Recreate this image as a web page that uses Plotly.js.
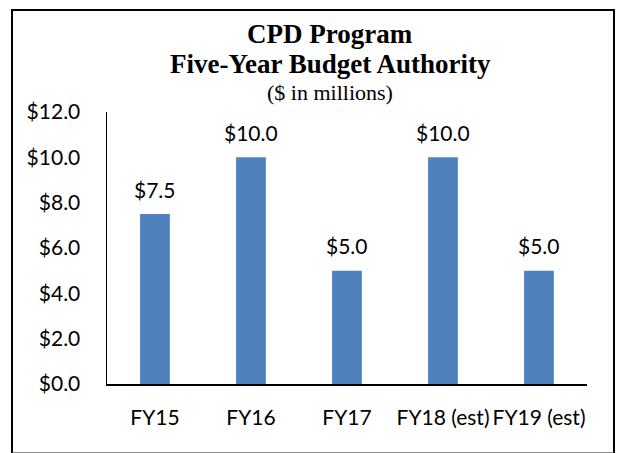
<!DOCTYPE html>
<html>
<head>
<meta charset="utf-8">
<script src="https://cdn.plot.ly/plotly-3.0.1.min.js"></script>
<style>
  html, body { margin: 0; padding: 0; background: #fff; }
  #wrap { position: relative; width: 618px; height: 453px; }
  #chart { position: absolute; left: 0; top: 0; width: 618px; height: 453px; }
  #frame { position: absolute; left: 11px; top: 9px; width: 600px; height: 441px;
           border: 2px solid #000; border-bottom-color: #888; pointer-events: none; }
</style>
</head>
<body>
<div id="wrap">
  <div id="chart"></div>
  <div id="frame"></div>
</div>
<script>
const categories = ["FY15", "FY16", "FY17", "FY18 (est)", "FY19 (est)"];
const values = [7.5, 10.0, 5.0, 10.0, 5.0];
const yTickValues = [0, 2, 4, 6, 8, 10, 12];
const titleLine1 = "CPD Program";
const titleLine2 = "Five-Year Budget Authority";
const titleLine3 = "($ in millions)";

const sans = "Lato, 'Open Sans', sans-serif";
const serif = "'Liberation Serif', 'Times New Roman', serif";

const money = v => "$" + v.toFixed(1);

const trace = {
  type: "bar",
  x: categories,
  y: values,
  marker: { color: "#4F81BD" },
  hoverinfo: "none"
};

const dataLabels = categories.map((c, i) => ({
  x: c, y: values[i], xref: "x", yref: "y",
  text: money(values[i]),
  showarrow: false, yanchor: "middle", yshift: 25,
  font: { family: sans, size: 21, color: "#000" }
}));

const titles = [
  { text: "<b>" + titleLine1 + "</b>", y: 1.285, size: 27 },
  { text: "<b>" + titleLine2 + "</b>", y: 1.175, size: 27 },
  { text: titleLine3, y: 1.070, size: 22 }
].map(t => ({
  x: 0.465, y: t.y, xref: "paper", yref: "paper",
  xanchor: "center", yanchor: "middle", showarrow: false,
  text: t.text, font: { family: serif, size: t.size, color: "#000" }
}));

const layout = {
  width: 618, height: 453,
  margin: { l: 107, r: 31, t: 112, b: 69, pad: 0 },
  paper_bgcolor: "#fff", plot_bgcolor: "#fff",
  bargap: 0.69,
  showlegend: false,
  xaxis: {
    type: "category",
    showline: true, linecolor: "#000", linewidth: 1.5,
    showgrid: false, zeroline: false, ticks: "",
    tickangle: 0,
    ticklabelstandoff: 14,
    tickfont: { family: sans, size: 21, color: "#000" },
    fixedrange: true
  },
  yaxis: {
    range: [0, 12],
    tickmode: "array",
    tickvals: yTickValues,
    ticktext: yTickValues.map(money),
    showline: true, linecolor: "#000", linewidth: 1.5,
    showgrid: false, zeroline: false, ticks: "",
    ticklabelstandoff: 21,
    tickfont: { family: sans, size: 21, color: "#000" },
    fixedrange: true
  },
  annotations: dataLabels.concat(titles)
};

Plotly.newPlot("chart", [trace], layout, { staticPlot: true, displayModeBar: false });
</script>
</body>
</html>
